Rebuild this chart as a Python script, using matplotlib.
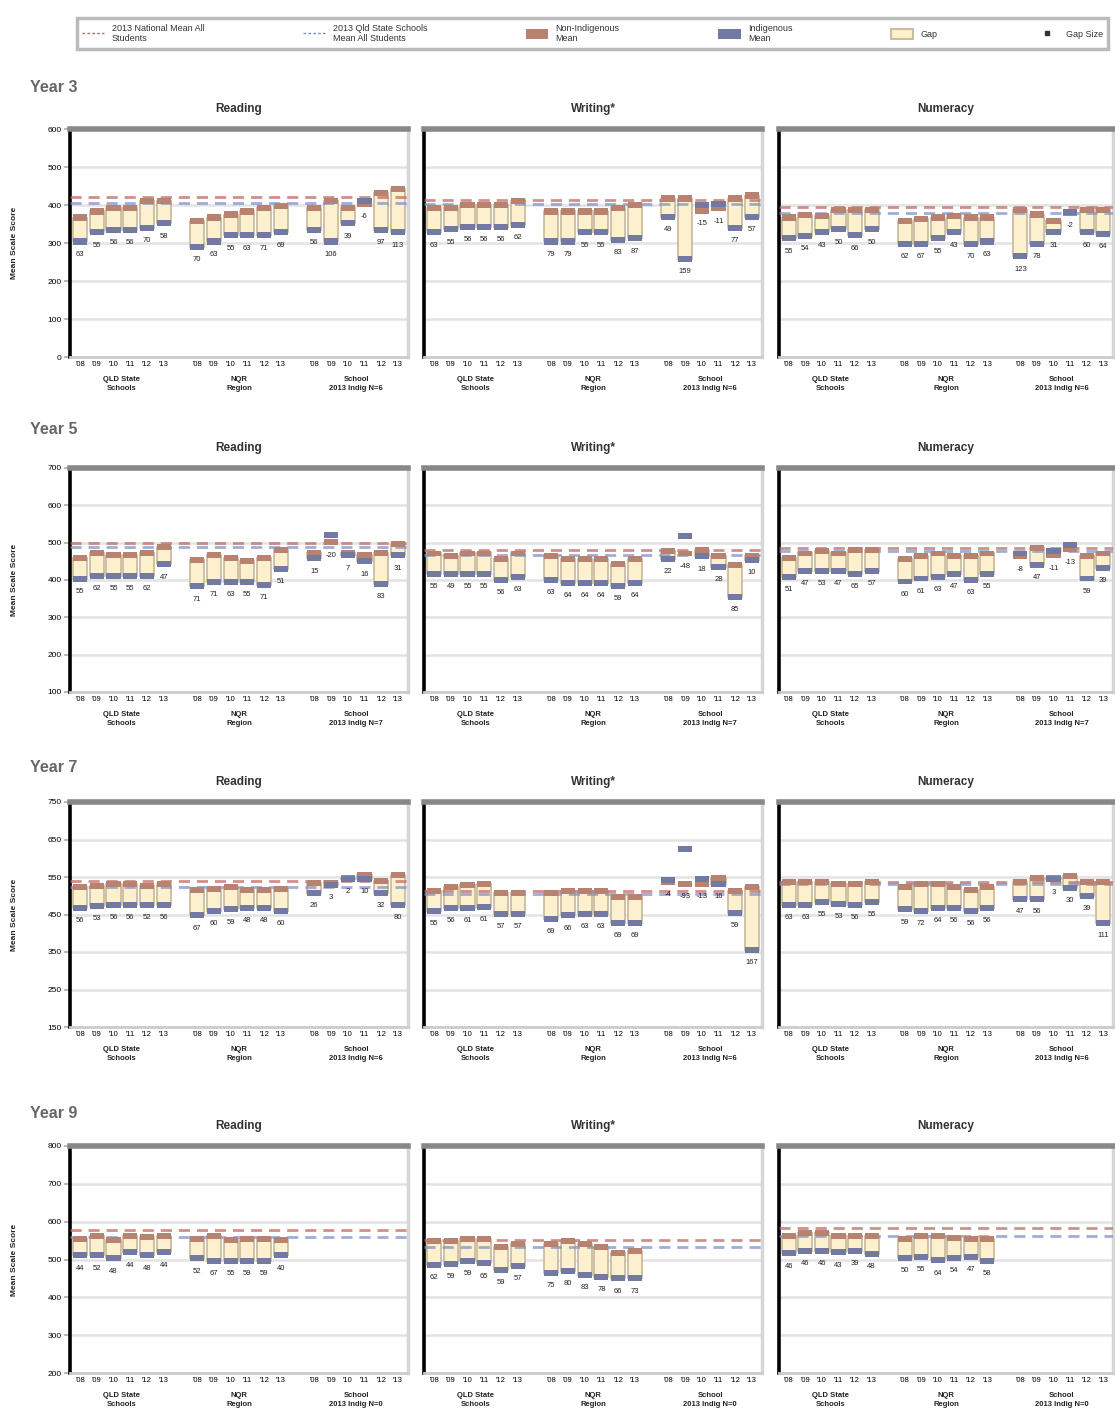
import numpy as np
import matplotlib
matplotlib.use('Agg')
import matplotlib.pyplot as plt
import matplotlib.transforms as mtransforms
from matplotlib.lines import Line2D
from matplotlib.patches import Patch

plt.rcParams['font.family'] = ['Liberation Sans', 'DejaVu Sans']

# Categorias
years = ["'08", "'09", "'10", "'11", "'12", "'13"]
subjects = ['Reading', 'Writing*', 'Numeracy']
year_levels = ['Year 3', 'Year 5', 'Year 7', 'Year 9']
school_n = ['6', '7', '6', '0']
nan = np.nan

# Médias (QLD State Schools, NQR Region, School) -- não indígenas / indígenas
y3_read_non = [367, 383, 391, 391, 410, 410, 359, 367, 375, 383, 391, 397, 391, 410, 391, 404, 432, 441]
y3_read_ind = [304, 328, 335, 335, 340, 352, 289, 304, 320, 320, 320, 328, 335, 304, 352, 410, 335, 328]
y3_writ_non = [391, 391, 399, 399, 399, 410, 383, 383, 383, 383, 391, 399, 417, 417, 384, 391, 417, 425]
y3_writ_ind = [328, 336, 343, 343, 343, 348, 304, 304, 328, 328, 308, 312, 368, 258, 399, 402, 340, 368]
y3_num_non = [367, 373, 371, 386, 386, 386, 359, 364, 367, 371, 367, 367, 388, 375, 359, 380, 388, 388]
y3_num_ind = [312, 319, 328, 336, 320, 336, 297, 297, 312, 328, 297, 304, 265, 297, 328, 382, 328, 324]

y5_read_non = [458, 473, 466, 466, 473, 489, 454, 466, 458, 450, 458, 481, 473, 501, 473, 466, 473, 497]
y5_read_ind = [403, 411, 411, 411, 411, 442, 383, 395, 395, 395, 387, 430, 458, 521, 466, 450, 390, 466]
y5_writ_non = [471, 465, 471, 471, 456, 471, 463, 456, 456, 456, 443, 456, 478, 471, 481, 464, 440, 463]
y5_writ_ind = [416, 416, 416, 416, 400, 408, 400, 392, 392, 392, 384, 392, 456, 519, 463, 436, 355, 453]
y5_num_non = [459, 471, 477, 471, 481, 481, 456, 465, 471, 463, 463, 471, 463, 487, 466, 482, 463, 471]
y5_num_ind = [408, 424, 424, 424, 416, 424, 396, 404, 408, 416, 400, 416, 471, 440, 477, 495, 404, 432]

y7_read_non = [523, 527, 531, 531, 527, 531, 515, 519, 523, 515, 515, 519, 533, 533, 547, 555, 539, 555]
y7_read_ind = [467, 474, 475, 475, 475, 475, 448, 459, 464, 467, 467, 459, 507, 530, 545, 545, 507, 475]
y7_writ_non = [514, 523, 528, 531, 508, 508, 508, 514, 514, 514, 496, 496, 537, 531, 531, 547, 514, 523]
y7_writ_ind = [459, 467, 467, 470, 451, 451, 439, 448, 451, 451, 427, 427, 541, 624, 544, 531, 455, 356]
y7_num_non = [538, 538, 538, 531, 531, 538, 523, 531, 531, 523, 515, 523, 538, 547, 547, 552, 538, 538]
y7_num_ind = [475, 475, 483, 478, 475, 483, 464, 459, 467, 467, 459, 467, 491, 491, 544, 522, 499, 427]

y9_read_non = [555, 563, 551, 563, 559, 563, 555, 563, 551, 555, 555, 551, nan, nan, nan, nan, nan, nan]
y9_read_ind = [511, 511, 503, 519, 511, 519, 503, 496, 496, 496, 496, 511, nan, nan, nan, nan, nan, nan]
y9_writ_non = [548, 548, 555, 555, 532, 540, 540, 550, 542, 532, 516, 523, nan, nan, nan, nan, nan, nan]
y9_writ_ind = [486, 489, 496, 490, 473, 483, 465, 470, 459, 454, 450, 450, nan, nan, nan, nan, nan, nan]
y9_num_non = [562, 569, 569, 562, 562, 562, 554, 562, 562, 558, 554, 554, nan, nan, nan, nan, nan, nan]
y9_num_ind = [516, 523, 523, 519, 523, 514, 504, 507, 498, 504, 507, 496, nan, nan, nan, nan, nan, nan]

# Médias 2013 (Nacional, QLD State) por disciplina
y3_national = [422, 412, 394]
y3_state = [404, 402, 379]
y5_national = [499, 481, 487]
y5_state = [489, 466, 477]
y7_national = [539, 514, 538]
y7_state = [523, 505, 531]
y9_national = [579, 552, 582]
y9_state = [559, 532, 562]

yranges = [(0, 600), (100, 700), (150, 750), (200, 800)]

panels = [
    [(y3_read_non, y3_read_ind), (y3_writ_non, y3_writ_ind), (y3_num_non, y3_num_ind)],
    [(y5_read_non, y5_read_ind), (y5_writ_non, y5_writ_ind), (y5_num_non, y5_num_ind)],
    [(y7_read_non, y7_read_ind), (y7_writ_non, y7_writ_ind), (y7_num_non, y7_num_ind)],
    [(y9_read_non, y9_read_ind), (y9_writ_non, y9_writ_ind), (y9_num_non, y9_num_ind)],
]
means = [(y3_national, y3_state), (y5_national, y5_state), (y7_national, y7_state), (y9_national, y9_state)]

# Cores
C_NON = '#b7826f'
C_IND = '#7279a3'
C_GAP = '#fdf0cf'
C_GAP_EDGE = '#cbbd9f'
C_NAT = '#c06a64'
C_STATE = '#7f93c9'

W, H = 1115, 1416
fig = plt.figure(figsize=(W / 100, H / 100), dpi=100)

def add_axes_px(left, top, right, bottom):
    return fig.add_axes([left / W, 1 - bottom / H, (right - left) / W, (bottom - top) / H])

row_tb = [(129, 357), (468, 692), (802, 1027), (1146, 1373)]
col_lr = [(70, 408), (424, 762), (779, 1113)]
title_y = [87, 430, 768, 1114]

xpos = np.array(list(range(0, 6)) + list(range(7, 13)) + list(range(14, 20)))
mk = 16  # altura dos marcadores (pontos de escala)

for r in range(4):
    top, bottom = row_tb[r]
    fig.text(30 / W, 1 - title_y[r] / H, year_levels[r], fontsize=11.5, fontweight='bold',
             color='#666666', va='center', ha='left')
    fig.text(15 / W, 1 - (top + bottom) / 2 / H, 'Mean Scale Score', rotation=90,
             fontsize=6, fontweight='bold', ha='center', va='center', color='#222222')
    lo, hi = yranges[r]
    for c in range(3):
        left, right = col_lr[c]
        ax = add_axes_px(left, top, right, bottom)
        non = np.array(panels[r][c][0], dtype=float)
        ind = np.array(panels[r][c][1], dtype=float)

        ok = ~np.isnan(non)
        x = xpos[ok]
        n = non[ok]
        i = ind[ok]

        # Gap (só quando não indígena > indígena)
        pos = n > i
        ax.bar(x[pos], (n - i)[pos], bottom=i[pos], width=0.85, color=C_GAP,
               edgecolor=C_GAP_EDGE, linewidth=1.3, zorder=2)

        # Linhas de referência 2013
        ax.axhline(means[r][0][c], color=C_NAT, lw=2, ls=(0, (4, 2.5)), alpha=0.75, zorder=3)
        ax.axhline(means[r][1][c], color=C_STATE, lw=2, ls=(0, (4, 2.5)), alpha=0.75, zorder=3)

        # Marcadores das médias
        ax.bar(x, mk, bottom=n - mk / 2, width=0.85, color=C_NON, zorder=4)
        ax.bar(x, mk, bottom=i - mk / 2, width=0.85, color=C_IND, zorder=4)

        # Tamanho do gap
        for xx, a, b in zip(x, n, i):
            ax.annotate(f'{int(round(a - b))}', (xx, min(a, b) - mk / 2),
                        xytext=(0, -4.5), textcoords='offset points',
                        ha='center', va='top', fontsize=5.5, color='#222222', zorder=5)

        ax.set_xlim(-0.6, 19.6)
        ax.set_ylim(lo, hi)
        ax.set_yticks(np.arange(lo, hi + 1, 100))
        ax.tick_params(axis='y', labelsize=6, length=4, color='#bbbbbb', width=1.5, pad=2)
        if c > 0:
            ax.tick_params(axis='y', labelleft=False, length=0)
        ax.set_xticks(xpos)
        ax.set_xticklabels(years * 3, fontsize=5.5)
        ax.tick_params(axis='x', length=0, pad=3)
        ax.yaxis.grid(True, color='#e3e3e3', lw=1.8)
        ax.set_axisbelow(True)

        ax.spines['left'].set_color('black')
        ax.spines['left'].set_linewidth(2.6)
        ax.spines['top'].set_color('#888888')
        ax.spines['top'].set_linewidth(4)
        ax.spines['right'].set_color('#d6d6d6')
        ax.spines['right'].set_linewidth(2.5)
        ax.spines['bottom'].set_color('#cccccc')
        ax.spines['bottom'].set_linewidth(2)

        trans = mtransforms.blended_transform_factory(ax.transData, ax.transAxes)
        groups = ['QLD State\nSchools', 'NQR\nRegion', f'School\n2013 Indig N={school_n[r]}']
        for g, lab in enumerate(groups):
            ax.text(2.5 + 7 * g, -0.085, lab, transform=trans, ha='center', va='top',
                    fontsize=5.5, fontweight='bold', color='#222222', linespacing=1.3)

        ax.set_title(subjects[c], fontsize=8.5, fontweight='bold', color='#333333', pad=12)

# Legenda
handles = [
    Line2D([], [], color=C_NAT, lw=1, ls=(0, (2, 1.5))),
    Line2D([], [], color=C_STATE, lw=1, ls=(0, (2, 1.5))),
    Patch(facecolor=C_NON),
    Patch(facecolor=C_IND),
    Patch(facecolor=C_GAP, edgecolor=C_GAP_EDGE, linewidth=1.5),
    Line2D([], [], color='#333333', marker='s', ls='none', markersize=3),
]
labels = ['2013 National Mean All\nStudents', '2013 Qld State Schools\nMean All Students',
          'Non-Indigenous\nMean', 'Indigenous\nMean', 'Gap', 'Gap Size']
leg = fig.legend(handles, labels, loc='center', ncol=6, mode='expand',
                 bbox_to_anchor=(72 / W, 1 - 55 / H, 1041 / W, 43 / H),
                 fontsize=6.5, frameon=True, fancybox=False, edgecolor='#aaaaaa',
                 handlelength=2.5, handleheight=1.4, borderpad=0.6)
leg.get_frame().set_linewidth(2.5)
for t in leg.get_texts():
    t.set_color('#333333')

fig.savefig('out.png', dpi=100)
